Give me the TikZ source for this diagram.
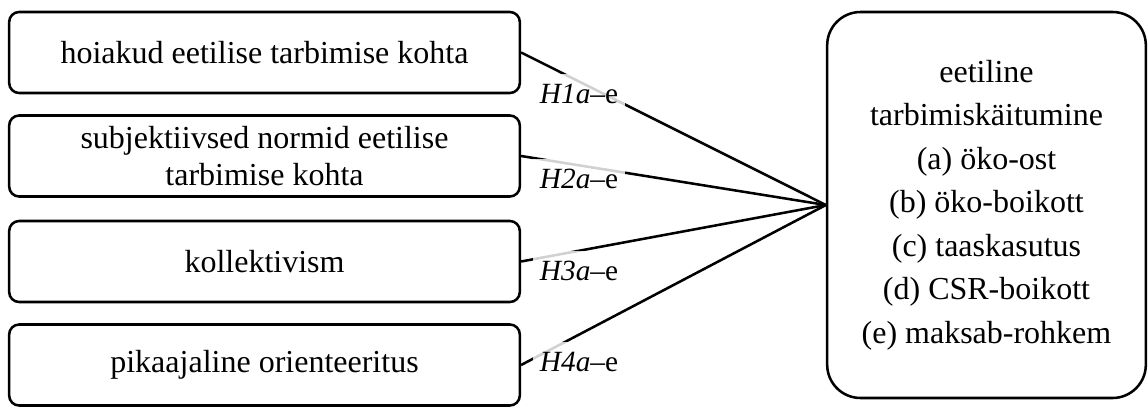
\documentclass[tikz,border=0pt]{standalone}
\usepackage{fontspec}
\setmainfont{Liberation Serif}
\begin{document}
\begin{tikzpicture}[x=0.75pt,y=-0.75pt,
  box/.style={draw, line width=1.9pt, rounded corners=7.5pt, minimum width=383pt, minimum height=60.75pt, inner sep=0pt, align=center, font=\fontsize{24}{27.6}\selectfont},
  outcome/.style={draw, line width=1.9pt, rounded corners=25pt, minimum width=239pt, minimum height=289.5pt, inner sep=0pt, align=center, font=\fontsize{24}{32.6}\selectfont},
  link/.style={line width=1.9pt},
  hyp/.style={anchor=base west, fill=white, fill opacity=0.82, text opacity=1, inner xsep=5pt, inner ysep=7.5pt, font=\fontsize{22}{25}\selectfont}]
\useasboundingbox (0,0) rectangle (1148,407);
\node[box] (b1) at (264.5,52.5) {hoiakud eetilise tarbimise kohta};
\node[box] (b2) at (264.5,156) {subjektiivsed normid eetilise\\tarbimise kohta};
\node[box] (b3) at (264.5,261.5) {kollektivism};
\node[box] (b4) at (264.5,365) {pikaajaline orienteeritus};
\node[outcome] (out) at (986.5,205) {eetiline\\tarbimiskäitumine\\(a) öko-ost\\(b) öko-boikott\\(c) taaskasutus\\(d) CSR-boikott\\(e) maksab-rohkem};
\draw[link] (b1.east) -- (out.west);
\draw[link] (b2.east) -- (out.west);
\draw[link] (b3.east) -- (out.west);
\draw[link] (b4.east) -- (out.west);
\node[hyp] (h1) at (533,103) {\textit{H1a}–e};
\node[hyp] (h2) at (533,188) {\textit{H2a}–e};
\node[hyp] (h3) at (533,280) {\textit{H3a}–e};
\node[hyp] (h4) at (533,371) {\textit{H4a}–e};
\end{tikzpicture}
\end{document}
